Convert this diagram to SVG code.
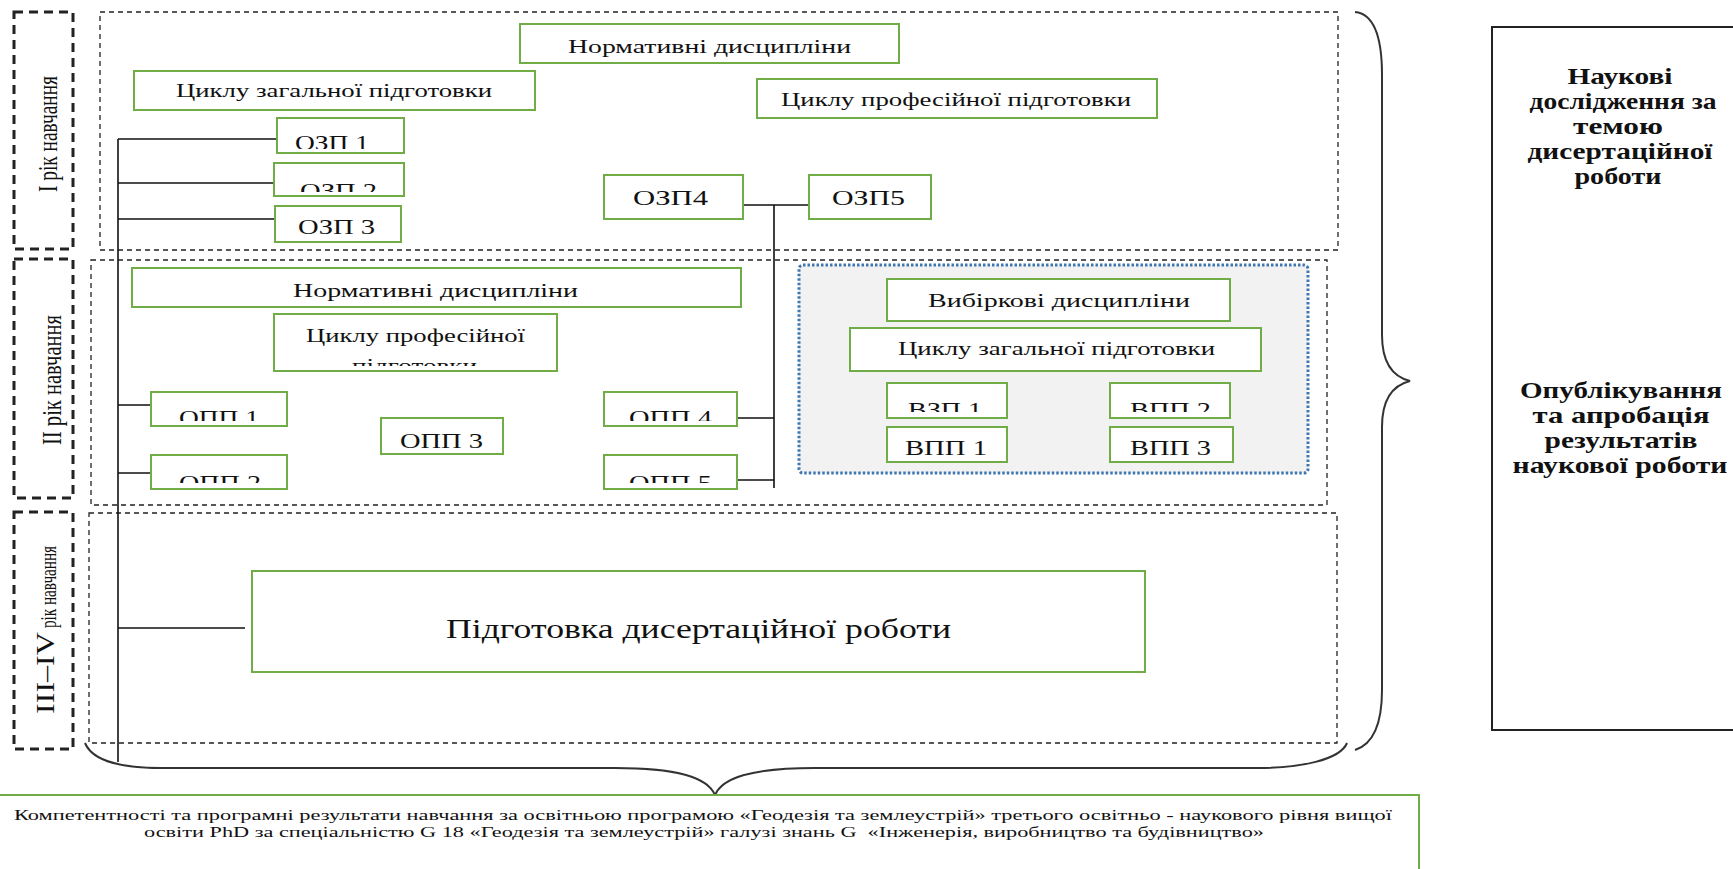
<svg xmlns="http://www.w3.org/2000/svg" width="1733" height="869" viewBox="0 0 1733 869">
<style>
.g{fill:#fff;stroke:#70AD47;stroke-width:2}
.yr{fill:none;stroke:#222;stroke-width:3;stroke-dasharray:9 6}
.sec{fill:none;stroke:#222;stroke-width:1.3;stroke-dasharray:5 4}
.ln{stroke:#111;stroke-width:1.6;fill:none}
.br{stroke:#333;stroke-width:2;fill:none}
.t{font-family:"Liberation Serif","Times New Roman",serif;fill:#111;text-anchor:middle}
.s19{font-size:19px}
.s22{font-size:22px}
.b{font-weight:bold;font-size:23px}
</style>
<defs>
<clipPath id="cOZP1"><rect x="277" y="118" width="127" height="31"/></clipPath>
<clipPath id="cOZP2"><rect x="274" y="163" width="130" height="29"/></clipPath>
<clipPath id="cOPP1"><rect x="151" y="392" width="136" height="29"/></clipPath>
<clipPath id="cOPP2"><rect x="151" y="455" width="136" height="28"/></clipPath>
<clipPath id="cOPP4"><rect x="604" y="392" width="133" height="29"/></clipPath>
<clipPath id="cOPP5"><rect x="604" y="455" width="133" height="28"/></clipPath>
<clipPath id="cVZP1"><rect x="887" y="383" width="120" height="29"/></clipPath>
<clipPath id="cVPP2"><rect x="1110" y="383" width="120" height="29"/></clipPath>
<clipPath id="cC2"><rect x="274" y="314" width="283" height="52"/></clipPath>
</defs>
<rect width="1733" height="869" fill="#fff"/>

<!-- year frames -->
<g id="year1">
<rect class="yr" x="14" y="12" width="59" height="237"/>
<text class="t" font-size="28" transform="translate(57,134) rotate(-90)" textLength="116" lengthAdjust="spacingAndGlyphs">I рік навчання</text>
</g>
<g id="year2">
<rect class="yr" x="14" y="259" width="59" height="239"/>
<text class="t" font-size="28" transform="translate(61,380) rotate(-90)" textLength="130" lengthAdjust="spacingAndGlyphs">II рік навчання</text>
</g>
<g id="year3">
<rect class="yr" x="14" y="512" width="59" height="237"/>
<text class="t" font-size="26" style="text-anchor:start" transform="translate(54,714) rotate(-90)" textLength="82" lengthAdjust="spacingAndGlyphs">III–IV</text>
<text class="t" font-size="24" style="text-anchor:start" transform="translate(56,628) rotate(-90)" textLength="82" lengthAdjust="spacingAndGlyphs">рік навчання</text>
</g>

<!-- section frames -->
<g id="sections">
<rect class="sec" x="100" y="12" width="1238" height="238"/>
<rect class="sec" x="91" y="260" width="1236" height="245"/>
<rect class="sec" x="89" y="513" width="1248" height="230"/>
</g>

<!-- elective area -->
<g id="elective-area">
<rect x="799" y="265" width="509" height="208" rx="4" fill="#F2F2F2" stroke="#3F77B0" stroke-width="3" stroke-dasharray="2.5 2"/>
</g>

<!-- connectors -->
<g id="connectors">
<path class="ln" d="M118,139 V762"/>
<path class="ln" d="M118,139 H277 M118,183 H275 M118,219 H275"/>
<path class="ln" d="M118,405 H151 M118,473 H151"/>
<path class="ln" d="M118,628 H245"/>
<path class="ln" d="M743,205 H809 M774,205 V488"/>
<path class="ln" d="M737,418 H774 M737,480 H774"/>
<path class="br" d="M1355,12 C1375,14 1382,40 1382,75 L1382,335 C1382,365 1394,377 1410,381 C1394,385 1382,397 1382,427 L1382,690 C1382,722 1374,744 1355,750"/>
<path class="br" d="M85,743 C92,760 120,768 161,768 L615,768 C680,768 708,778 715,795 C722,778 750,768 815,768 L1258,768 C1300,768 1340,760 1347,743"/>
</g>

<!-- year 1 nodes -->
<g id="norm1"><rect class="g" x="520" y="24" width="379" height="39"/>
<text class="t s19" x="709.5" y="53" textLength="283" lengthAdjust="spacingAndGlyphs">Нормативні дисципліни</text></g>
<g id="gen1"><rect class="g" x="134" y="71" width="401" height="39"/>
<text class="t s19" x="334" y="97" textLength="316" lengthAdjust="spacingAndGlyphs">Циклу загальної підготовки</text></g>
<g id="prof1"><rect class="g" x="757" y="79" width="400" height="39"/>
<text class="t s19" x="956" y="106" textLength="350" lengthAdjust="spacingAndGlyphs">Циклу професійної підготовки</text></g>
<g id="ozp1"><rect class="g" x="277" y="118" width="127" height="35"/>
<text class="t s22" x="332" y="150" textLength="74" lengthAdjust="spacingAndGlyphs" clip-path="url(#cOZP1)">ОЗП 1</text></g>
<g id="ozp2"><rect class="g" x="274" y="163" width="130" height="33"/>
<text class="t s22" x="338.5" y="198" textLength="77" lengthAdjust="spacingAndGlyphs" clip-path="url(#cOZP2)">ОЗП 2</text></g>
<g id="ozp3"><rect class="g" x="275" y="206" width="126" height="36"/>
<text class="t s22" x="336.5" y="234" textLength="77" lengthAdjust="spacingAndGlyphs">ОЗП 3</text></g>
<g id="ozp4"><rect class="g" x="604" y="175" width="139" height="44"/>
<text class="t s22" x="670.5" y="205" textLength="75" lengthAdjust="spacingAndGlyphs">ОЗП4</text></g>
<g id="ozp5"><rect class="g" x="809" y="175" width="122" height="44"/>
<text class="t s22" x="868.5" y="205" textLength="73" lengthAdjust="spacingAndGlyphs">ОЗП5</text></g>

<!-- year 2 nodes -->
<g id="norm2"><rect class="g" x="132" y="268" width="609" height="39"/>
<text class="t s19" x="435.5" y="297" textLength="285" lengthAdjust="spacingAndGlyphs">Нормативні дисципліни</text></g>
<g id="prof2"><rect class="g" x="274" y="314" width="283" height="57"/>
<text class="t s19" x="415.5" y="342" textLength="219" lengthAdjust="spacingAndGlyphs">Циклу професійної</text>
<text class="t s19" x="414.5" y="372" textLength="125" lengthAdjust="spacingAndGlyphs" clip-path="url(#cC2)">підготовки</text></g>
<g id="opp1"><rect class="g" x="151" y="392" width="136" height="34"/>
<text class="t s22" x="219" y="425" textLength="80" lengthAdjust="spacingAndGlyphs" clip-path="url(#cOPP1)">ОПП 1</text></g>
<g id="opp2"><rect class="g" x="151" y="455" width="136" height="34"/>
<text class="t s22" x="220" y="490" textLength="82" lengthAdjust="spacingAndGlyphs" clip-path="url(#cOPP2)">ОПП 2</text></g>
<g id="opp3"><rect class="g" x="381" y="418" width="122" height="36"/>
<text class="t s22" x="441.5" y="448" textLength="83" lengthAdjust="spacingAndGlyphs">ОПП 3</text></g>
<g id="opp4"><rect class="g" x="604" y="392" width="133" height="34"/>
<text class="t s22" x="670.5" y="425" textLength="83" lengthAdjust="spacingAndGlyphs" clip-path="url(#cOPP4)">ОПП 4</text></g>
<g id="opp5"><rect class="g" x="604" y="455" width="133" height="34"/>
<text class="t s22" x="670.5" y="490" textLength="83" lengthAdjust="spacingAndGlyphs" clip-path="url(#cOPP5)">ОПП 5</text></g>

<g id="elect"><rect class="g" x="887" y="279" width="343" height="42"/>
<text class="t s19" x="1059" y="307" textLength="262" lengthAdjust="spacingAndGlyphs">Вибіркові дисципліни</text></g>
<g id="gen2"><rect class="g" x="850" y="328" width="411" height="43"/>
<text class="t s19" x="1056.5" y="355" textLength="317" lengthAdjust="spacingAndGlyphs">Циклу загальної підготовки</text></g>
<g id="vzp1"><rect class="g" x="887" y="383" width="120" height="35"/>
<text class="t s22" x="945" y="417" textLength="74" lengthAdjust="spacingAndGlyphs" clip-path="url(#cVZP1)">ВЗП 1</text></g>
<g id="vpp2"><rect class="g" x="1110" y="383" width="120" height="35"/>
<text class="t s22" x="1170.5" y="417" textLength="81" lengthAdjust="spacingAndGlyphs" clip-path="url(#cVPP2)">ВПП 2</text></g>
<g id="vpp1"><rect class="g" x="887" y="427" width="120" height="35"/>
<text class="t s22" x="946" y="455" textLength="82" lengthAdjust="spacingAndGlyphs">ВПП 1</text></g>
<g id="vpp3"><rect class="g" x="1110" y="427" width="123" height="35"/>
<text class="t s22" x="1170.5" y="455" textLength="81" lengthAdjust="spacingAndGlyphs">ВПП 3</text></g>

<!-- year 3-4 -->
<g id="thesis"><rect class="g" x="252" y="571" width="893" height="101"/>
<text class="t" font-size="28" x="698.5" y="638" textLength="505" lengthAdjust="spacingAndGlyphs">Підготовка дисертаційної роботи</text></g>

<!-- right box -->
<g id="research">
<rect x="1492" y="27" width="260" height="703" fill="#fff" stroke="#222" stroke-width="2"/>
<text class="t b" x="1620" y="84" textLength="105" lengthAdjust="spacingAndGlyphs">Наукові</text>
<text class="t b" x="1623" y="109" textLength="187" lengthAdjust="spacingAndGlyphs">дослідження за</text>
<text class="t b" x="1618" y="134" textLength="90" lengthAdjust="spacingAndGlyphs">темою</text>
<text class="t b" x="1620" y="159" textLength="185" lengthAdjust="spacingAndGlyphs">дисертаційної</text>
<text class="t b" x="1618" y="184" textLength="87" lengthAdjust="spacingAndGlyphs">роботи</text>
<text class="t b" x="1621" y="398" textLength="202" lengthAdjust="spacingAndGlyphs">Опублікування</text>
<text class="t b" x="1621" y="423" textLength="177" lengthAdjust="spacingAndGlyphs">та апробація</text>
<text class="t b" x="1621" y="448" textLength="153" lengthAdjust="spacingAndGlyphs">результатів</text>
<text class="t b" x="1620" y="473" textLength="215" lengthAdjust="spacingAndGlyphs">наукової роботи</text>
</g>

<!-- bottom outcomes -->
<g id="outcomes">
<rect class="g" x="-20" y="795" width="1439" height="100"/>
<text class="t" font-size="15" x="703" y="820" textLength="1378" lengthAdjust="spacingAndGlyphs">Компетентності та програмні результати навчання за освітньою програмою «Геодезія та землеустрій» третього освітньо - наукового рівня вищої</text>
<text class="t" font-size="15" x="704" y="837" textLength="1120" lengthAdjust="spacingAndGlyphs" style="white-space:pre">освіти PhD за спеціальністю G 18 «Геодезія та землеустрій» галузі знань G  «Інженерія, виробництво та будівництво»</text>
</g>
</svg>
